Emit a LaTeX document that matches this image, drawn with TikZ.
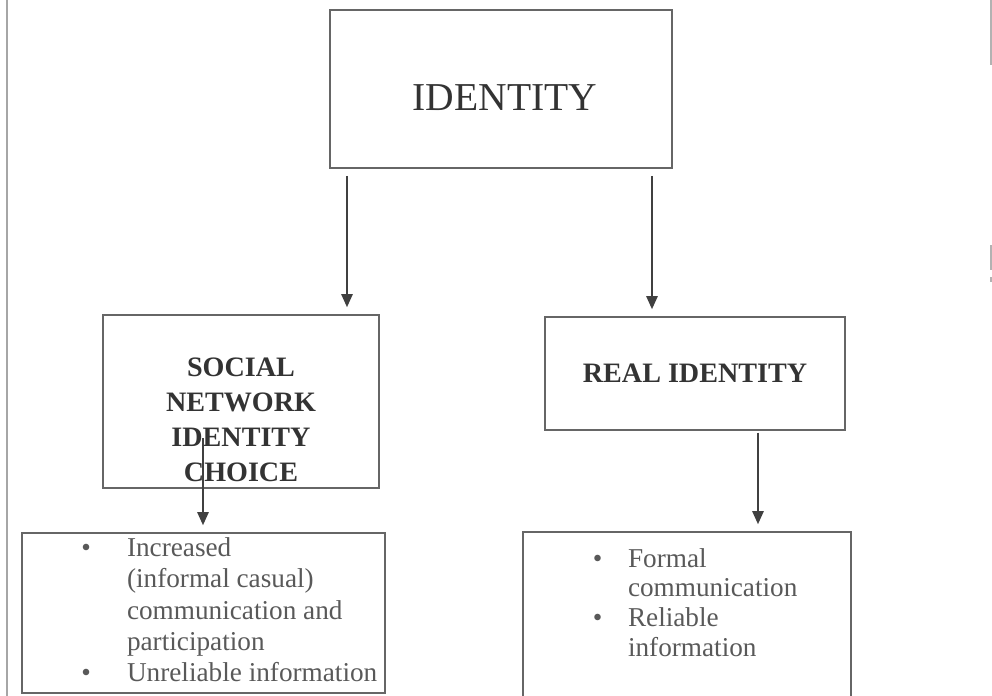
\documentclass[tikz,border=0pt]{standalone}
\usepackage{fontspec}
\setmainfont{Liberation Serif}
\usetikzlibrary{arrows.meta}

\tikzset{
  box/.style={draw=black!60, line width=0.9pt, inner sep=0pt},
  arr/.style={draw=black!75, line width=1pt, -{Triangle[width=6.5pt,length=7.5pt]},
    shorten <=4pt, shorten >=4pt},
  bul/.style={anchor=base west, inner sep=0pt, text=black!65,
    font=\fontsize{15.5}{17.9}\selectfont},
}

\begin{document}
\begin{tikzpicture}[x=0.02cm, y=-0.02cm]
\useasboundingbox (0,0) rectangle (992,696);
% page edges of the scan
\draw[black!35, line width=1.7pt] (7,0) -- (7,696);
\draw[black!30, line width=0.8pt] (991,0) -- (991,65) (991,245) -- (991,270)
  (991,277) -- (991,282);

% boxes
\node[box, minimum width=6.84cm, minimum height=3.16cm] (identity) at (501,89) {};
\node[text=black!80, inner sep=0pt, font=\fontsize{22.5}{27}\selectfont]
  (identitytxt) at (505,98) {IDENTITY};
\node[box, minimum width=5.52cm, minimum height=3.46cm] (social) at (241,401.5) {};
\node[align=center, text=black!80, inner sep=0pt,
  font=\bfseries\fontsize{16}{19.9}\selectfont] (socialtxt) at (241,419.5)
  {SOCIAL\\NETWORK\\IDENTITY\\CHOICE};
\node[box, minimum width=6cm, minimum height=2.26cm, text=black!80,
  font=\bfseries\fontsize{16}{20}\selectfont] (real) at (695,373.5) {REAL IDENTITY};
\node[box, minimum width=7.26cm, minimum height=3.2cm] (sbul) at (203.5,613) {};
\node[box, minimum width=6.56cm, minimum height=3.46cm] (rbul) at (687,618.5) {};

% bullet lists
\node[bul] (stxt) at ([xshift=34pt,yshift=-13.6pt]sbul.north west)
  {\begin{tabular}[t]{@{}p{26pt}@{}l@{}}
   \textbullet & Increased\\
   & (informal casual)\\
   & communication and\\
   & participation\\
   \textbullet & Unreliable information
   \end{tabular}};
\node[bul, font=\fontsize{15.5}{16.9}\selectfont] (rtxt)
  at ([xshift=40pt,yshift=-20.4pt]rbul.north west)
  {\begin{tabular}[t]{@{}p{20pt}@{}l@{}}
   \textbullet & Formal\\
   & communication\\
   \textbullet & Reliable\\
   & information
   \end{tabular}};

% arrows
\coordinate (la) at (347,0);
\coordinate (ra) at (652,0);
\coordinate (sa) at (203,438);
\coordinate (rb) at (758,0);
\draw[arr] (identity.south -| la) -- (social.north -| la);
\draw[arr] (identity.south -| ra) -- (real.north -| ra);
\draw[arr, shorten <=0pt] (sa) -- (sbul.north -| sa);
\draw[arr, shorten <=1pt] (real.south -| rb) -- (rbul.north -| rb);
\end{tikzpicture}
\end{document}
